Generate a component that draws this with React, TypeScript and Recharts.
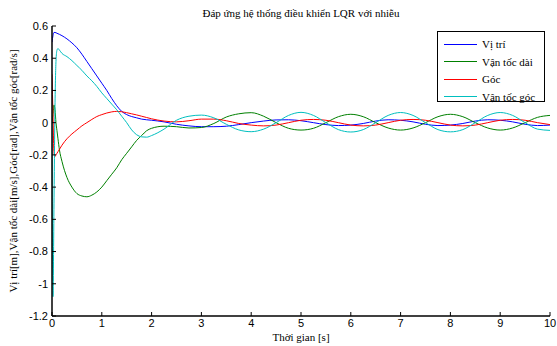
import React from 'react';
import { LineChart, Line, XAxis, YAxis } from 'recharts';

const time = [0, 0.02, 0.04, 0.06, 0.08, 0.1, 0.12, 0.15, 0.2, 0.3, 0.4, 0.5, 0.6, 0.7, 0.8, 0.9, 1.0, 1.1, 1.2, 1.3, 1.4, 1.5, 1.6, 1.7, 1.8, 1.9, 2.0, 2.25, 2.5, 2.75, 3.0, 3.25, 3.5, 3.75, 4.0, 4.25, 4.5, 4.75, 5.0, 5.25, 5.5, 5.75, 6.0, 6.25, 6.5, 6.75, 7.0, 7.25, 7.5, 7.75, 8.0, 8.25, 8.5, 8.75, 9.0, 9.25, 9.5, 9.75, 10];

const viTri = [0.5, 0.54, 0.56, 0.56, 0.558, 0.555, 0.552, 0.548, 0.54, 0.52, 0.495, 0.465, 0.425, 0.38, 0.335, 0.29, 0.245, 0.2, 0.15, 0.105, 0.07, 0.05, 0.038, 0.03, 0.022, 0.018, 0.015, 0.005, -0.01, -0.02, -0.025, -0.025, -0.022, -0.012, 0.0, 0.01, 0.017, 0.018, 0.012, 0.0, -0.012, -0.018, -0.015, -0.005, 0.01, 0.018, 0.015, 0.005, -0.01, -0.018, -0.015, -0.005, 0.01, 0.018, 0.015, 0.005, -0.01, -0.018, -0.015];

const vanTocDai = [0, 0.05, 0.11, 0.08, 0.0, -0.05, -0.1, -0.17, -0.24, -0.34, -0.4, -0.44, -0.455, -0.46, -0.45, -0.43, -0.4, -0.36, -0.32, -0.28, -0.23, -0.19, -0.15, -0.11, -0.08, -0.05, -0.035, -0.022, -0.025, -0.033, -0.03, -0.005, 0.035, 0.055, 0.062, 0.04, 0.0, -0.035, -0.046, -0.035, 0.0, 0.037, 0.052, 0.037, 0.0, -0.033, -0.046, -0.033, 0.0, 0.037, 0.052, 0.037, 0.0, -0.033, -0.046, -0.033, 0.0, 0.033, 0.045];

const goc = [0.3, 0.05, -0.19, -0.21, -0.2, -0.19, -0.18, -0.165, -0.14, -0.1, -0.07, -0.045, -0.02, 0.0, 0.02, 0.038, 0.05, 0.06, 0.067, 0.07, 0.068, 0.062, 0.055, 0.048, 0.04, 0.032, 0.024, 0.01, 0.005, 0.012, 0.022, 0.022, 0.012, -0.005, -0.015, -0.02, -0.015, 0.0, 0.015, 0.02, 0.015, 0.0, -0.015, -0.02, -0.015, 0.0, 0.015, 0.02, 0.015, 0.0, -0.015, -0.02, -0.015, 0.0, 0.015, 0.02, 0.015, 0.0, -0.012];

const vanTocGoc = [0, -1.08, -0.5, 0.1, 0.38, 0.45, 0.46, 0.45, 0.43, 0.41, 0.385, 0.355, 0.325, 0.29, 0.26, 0.225, 0.185, 0.15, 0.115, 0.08, 0.04, 0.0, -0.045, -0.075, -0.088, -0.09, -0.08, -0.04, 0.015, 0.04, 0.047, 0.03, -0.01, -0.045, -0.056, -0.04, 0.0, 0.045, 0.064, 0.045, 0.0, -0.043, -0.058, -0.043, 0.0, 0.045, 0.063, 0.045, 0.0, -0.043, -0.057, -0.043, 0.0, 0.045, 0.063, 0.045, 0.0, -0.04, -0.048];

const xTicks = [0, 1, 2, 3, 4, 5, 6, 7, 8, 9, 10];
const yTicks = [-1.2, -1, -0.8, -0.6, -0.4, -0.2, 0, 0.2, 0.4, 0.6];

const seriesNames = ['Vị trí', 'Vận tốc dài', 'Góc', 'Vận tốc góc'];
const seriesColors = ['#0000ff', '#008000', '#ff0000', '#00bfbf'];
const seriesKeys = ['viTri', 'vanTocDai', 'goc', 'vanTocGoc'];

const titleText = 'Đáp ứng hệ thống điều khiển LQR với nhiễu';
const xLabelText = 'Thời gian [s]';
const yLabelText = 'Vị trí[m],Vận tốc dài[m/s],Góc[rad],Vận tốc góc[rad/s]';

const data = time.map((t, i) => ({
  t,
  viTri: viTri[i],
  vanTocDai: vanTocDai[i],
  goc: goc[i],
  vanTocGoc: vanTocGoc[i],
}));

const fmt = (v: number) => String(Math.round(v * 10) / 10);
const serif = '"Liberation Serif", "DejaVu Serif", serif';
const sans = '"Liberation Sans", Arial, sans-serif';
const tickStyle = { fontSize: 11, fontFamily: sans, fill: '#000' };

export default function App() {
  return (
    <div style={{ position: 'absolute', left: 0, top: 0, width: 557, height: 346, background: '#fff' }}>
      <LineChart width={557} height={346} data={data} margin={{ top: 26, right: 7, bottom: 0, left: 0 }}>
        <XAxis
          dataKey="t"
          type="number"
          domain={[0, 10]}
          ticks={xTicks}
          allowDataOverflow
          height={30}
          tickSize={-4}
          tickMargin={7}
          tick={tickStyle}
          axisLine={{ stroke: '#000', strokeWidth: 1.5 }}
          tickLine={{ stroke: '#000' }}
          interval={0}
        />
        <XAxis
          xAxisId="top"
          orientation="top"
          dataKey="t"
          type="number"
          domain={[0, 10]}
          ticks={xTicks}
          allowDataOverflow
          height={0}
          tickSize={-4}
          tickFormatter={() => ''}
          axisLine={{ stroke: '#000', strokeWidth: 1.5 }}
          tickLine={{ stroke: '#000' }}
          interval={0}
        />
        <YAxis
          type="number"
          domain={[-1.2, 0.6]}
          ticks={yTicks}
          allowDataOverflow
          width={52}
          tickSize={-4}
          tickMargin={8}
          tick={tickStyle}
          tickFormatter={fmt}
          axisLine={{ stroke: '#000', strokeWidth: 1.5 }}
          tickLine={{ stroke: '#000' }}
          interval={0}
        />
        <YAxis
          yAxisId="right"
          orientation="right"
          type="number"
          domain={[-1.2, 0.6]}
          ticks={yTicks}
          allowDataOverflow
          width={0}
          tickSize={-4}
          tickFormatter={() => ''}
          axisLine={{ stroke: '#000', strokeWidth: 1.5 }}
          tickLine={{ stroke: '#000' }}
          interval={0}
        />
        {seriesKeys.map((k, i) => (
          <Line
            key={k}
            dataKey={k}
            name={seriesNames[i]}
            type="monotone"
            stroke={seriesColors[i]}
            strokeWidth={1}
            dot={false}
            activeDot={false}
            isAnimationActive={false}
          />
        ))}
      </LineChart>
      <div style={{ position: 'absolute', left: 52, width: 498, top: 7, textAlign: 'center', fontFamily: serif, fontSize: 11, color: '#000' }}>
        {titleText}
      </div>
      <div style={{ position: 'absolute', left: 52, width: 498, top: 331, textAlign: 'center', fontFamily: serif, fontSize: 11, color: '#000' }}>
        {xLabelText}
      </div>
      <div
        style={{
          position: 'absolute',
          left: 13,
          top: 171,
          width: 0,
          height: 0,
        }}
      >
        <div
          style={{
            position: 'absolute',
            left: 0,
            top: 0,
            transform: 'translate(-50%, -50%) rotate(-90deg)',
            whiteSpace: 'nowrap',
            fontFamily: serif,
            fontSize: 11,
            color: '#000',
          }}
        >
          {yLabelText}
        </div>
      </div>
      <div
        style={{
          position: 'absolute',
          left: 437,
          top: 31,
          width: 108,
          height: 71,
          border: '1px solid #000',
          background: '#fff',
          boxSizing: 'border-box',
        }}
      >
        {seriesNames.map((n, i) => (
          <div key={n} style={{ position: 'absolute', left: 6, top: 5 + i * 17.6, height: 14, display: 'flex', alignItems: 'center' }}>
            <div style={{ width: 33, height: 0, borderTop: `1px solid ${seriesColors[i]}` }} />
            <span style={{ marginLeft: 5, fontFamily: serif, fontSize: 11, color: '#000', whiteSpace: 'nowrap' }}>{n}</span>
          </div>
        ))}
      </div>
    </div>
  );
}
